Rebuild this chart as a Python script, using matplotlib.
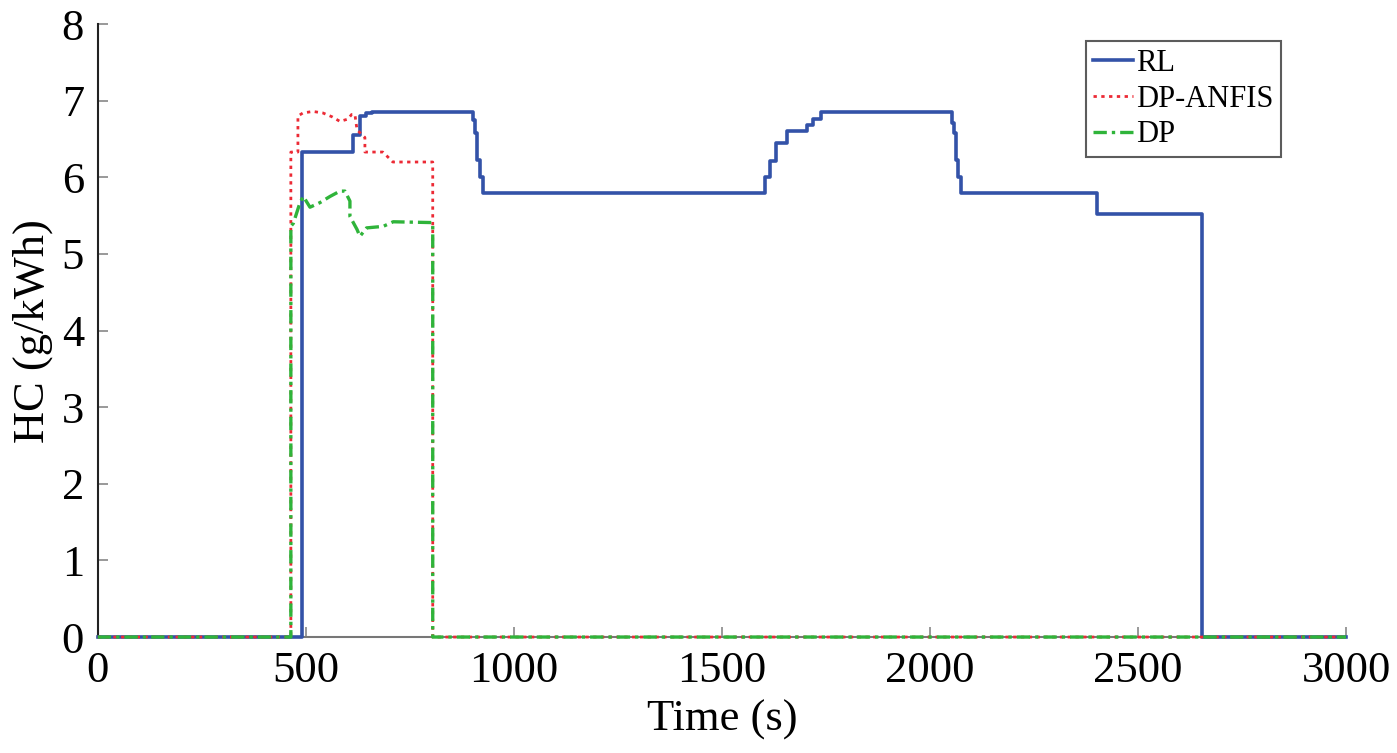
import numpy as np
import matplotlib
matplotlib.use("Agg")
import matplotlib.pyplot as plt

plt.rcParams['font.family'] = ['Liberation Serif', 'DejaVu Serif']

# RL series (step values, held until next time)
rl_t = [0, 490, 614, 630, 645, 660, 901, 906, 912, 918, 926, 1603, 1615, 1630,
        1657, 1704, 1719, 1738, 2052, 2057, 2062, 2068, 2075, 2401, 2653, 3000]
rl_v = [0, 6.33, 6.55, 6.80, 6.84, 6.85, 6.75, 6.58, 6.23, 6.00, 5.79, 6.01, 6.21, 6.45,
        6.60, 6.68, 6.76, 6.85, 6.71, 6.58, 6.23, 6.00, 5.79, 5.52, 0, 0]

# DP-ANFIS series
anfis_t = [0, 464, 464, 481, 481, 493, 517, 541, 563, 582, 601, 610, 618, 623,
           642, 642, 685, 702, 709, 805, 805, 3000]
anfis_v = [0, 0, 6.33, 6.33, 6.80, 6.84, 6.86, 6.84, 6.79, 6.73, 6.76, 6.82, 6.82, 6.62,
           6.52, 6.33, 6.33, 6.24, 6.20, 6.20, 0, 0]

# DP series
dp_t = [0, 464, 464, 470, 486, 494, 510, 534, 558, 582, 594, 606, 606, 623,
        630, 646, 686, 710, 798, 805, 805, 3000]
dp_v = [0, 0, 5.36, 5.40, 5.67, 5.75, 5.61, 5.67, 5.75, 5.82, 5.82, 5.69, 5.49, 5.32,
        5.23, 5.34, 5.36, 5.42, 5.41, 5.41, 0, 0]

fig = plt.figure(figsize=(13.97, 7.53), dpi=100)
ax = fig.add_axes([0.070, 0.154, 0.8935, 0.814])

ax.plot(rl_t, rl_v, color='#3352a8', lw=2.6, drawstyle='steps-post', label='RL',
        zorder=3, clip_on=False)
ax.plot(anfis_t, anfis_v, color='#ec2a35', lw=2.0, ls=(0, (1.2, 1.6)), label='DP-ANFIS',
        zorder=4, clip_on=False)
ax.plot(dp_t, dp_v, color='#2fb43a', lw=2.4, ls=(0, (4, 1.5, 1, 1.5)), label='DP',
        zorder=5, clip_on=False)

ax.set_xlim(0, 3000)
ax.set_ylim(0, 8)
ax.set_xticks(np.arange(0, 3001, 500))
ax.set_yticks(np.arange(0, 9, 1))

for s in ['top', 'right']:
    ax.spines[s].set_visible(False)
ax.spines['left'].set_color('#222222')
ax.spines['bottom'].set_color('#777777')
ax.spines['left'].set_linewidth(1.5)
ax.spines['bottom'].set_linewidth(1.5)
ax.spines['left'].set_zorder(2)
ax.spines['bottom'].set_zorder(2)

ax.tick_params(direction='in', length=7, width=1.2, color='#888888',
               labelsize=32, pad=10)
ax.set_xlabel('Time (s)', fontsize=32, labelpad=6)
ax.set_ylabel('HC (g/kWh)', fontsize=32, labelpad=6)

leg = ax.legend(loc='upper right', bbox_to_anchor=(0.948, 0.972), fontsize=22,
                frameon=True, fancybox=False, edgecolor='#333333',
                handlelength=1.3, handletextpad=0.1, labelspacing=0.22,
                borderpad=0.25, borderaxespad=0)
leg.get_frame().set_linewidth(1.5)
leg.set_zorder(6)

fig.savefig('out.png', dpi=100)
